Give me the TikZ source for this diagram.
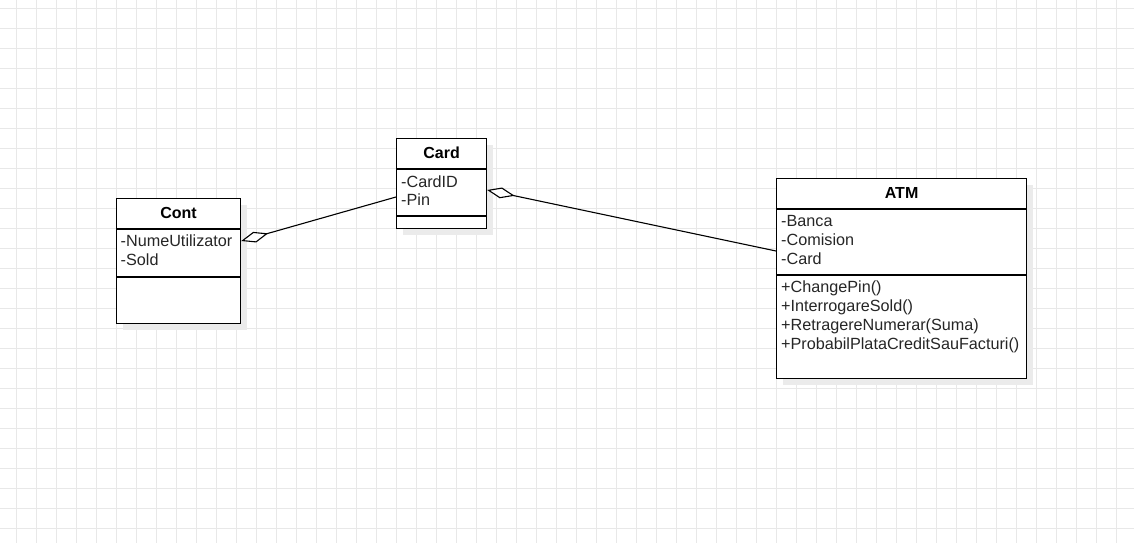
\documentclass[tikz,border=0pt]{standalone}
\usepackage{fontspec}
\setmainfont{Liberation Sans}
\usetikzlibrary{arrows.meta,calc}
\definecolor{gridc}{HTML}{E8E8E8}
\definecolor{shadowc}{HTML}{EBEBEB}
\tikzset{
  gridline/.style={draw=gridc,line width=0.9pt},
  umlbox/.style={draw=black,fill=white,line width=1.2pt,anchor=north west,inner sep=0pt},
  boxshadow/.style={fill=shadowc},
  sepline/.style={draw=black,line width=1.2pt},
  hdr/.style={font=\fontsize{16}{18}\selectfont\bfseries,inner sep=0pt,anchor=center},
  attr/.style={font=\fontsize{16.2}{18}\selectfont,inner sep=0pt,anchor=west,text=black!85},
  aggr/.style={draw=black,line width=1.1pt,-{Diamond[open,fill=white,length=28pt,width=11pt,line width=1.1pt]}}
}
\begin{document}
\begin{tikzpicture}[x=1pt,y=-1pt]
\useasboundingbox (0,0) rectangle (1134,543);
\fill[white] (0,0) rectangle (1134,543);
\foreach \x in {16.5,36.5,...,1134} \draw[gridline] (\x,0) -- (\x,543);
\foreach \y in {8.5,28.5,...,543} \draw[gridline] (0,\y) -- (1134,\y);

% shadows
\fill[boxshadow] (123,205) rectangle (247,330);
\fill[boxshadow] (403,145) rectangle (493,235);
\fill[boxshadow] (783,185) rectangle (1033,385);

% Cont
\node[umlbox,minimum width=124pt,minimum height=125pt] (cont) at (116,198) {};
\draw[sepline] ($(cont.north west)+(0,31)$) -- ($(cont.north east)+(0,31)$);
\draw[sepline] ($(cont.north west)+(0,79)$) -- ($(cont.north east)+(0,79)$);
\node[hdr] (conth) at ($(cont.north)+(0,15)$) {Cont};
\node[attr] (conta1) at (120.5,241) {-NumeUtilizator};
\node[attr] (conta2) at (120.5,260) {-Sold};

% Card
\node[umlbox,minimum width=90pt,minimum height=90pt] (card) at (396,138) {};
\draw[sepline] ($(card.north west)+(0,31)$) -- ($(card.north east)+(0,31)$);
\draw[sepline] ($(card.north west)+(0,78)$) -- ($(card.north east)+(0,78)$);
\node[hdr] (cardh) at ($(card.north)+(0,15)$) {Card};
\node[attr] (carda1) at (401,182) {-CardID};
\node[attr] (carda2) at (401,200) {-Pin};

% ATM
\node[umlbox,minimum width=250pt,minimum height=200pt] (atm) at (776,178) {};
\draw[sepline] ($(atm.north west)+(0,31)$) -- ($(atm.north east)+(0,31)$);
\draw[sepline] ($(atm.north west)+(0,97)$) -- ($(atm.north east)+(0,97)$);
\node[hdr] (atmh) at ($(atm.north)+(0,15)$) {ATM};
\node[attr] (atma1) at (781,221) {-Banca};
\node[attr] (atma2) at (781,240) {-Comision};
\node[attr] (atma3) at (781,259) {-Card};
\node[attr] (atmm1) at (781,288) {+ChangePin()};
\node[attr] (atmm2) at (781,307) {+InterrogareSold()};
\node[attr] (atmm3) at (781,326) {+RetragereNumerar(Suma)};
\node[attr] (atmm4) at (781,345) {+ProbabilPlataCreditSauFacturi()};

% connectors
\coordinate (cardL) at ($(card.north west)+(0,59)$);
\coordinate (contR) at ($(cont.north east)+(0,43)$);
\coordinate (atmL) at ($(atm.north west)+(0,73)$);
\coordinate (cardR) at ($(card.north east)+(0,52)$);
\draw[aggr] (cardL) -- (contR);
\draw[aggr] (atmL) -- (cardR);
\end{tikzpicture}
\end{document}
